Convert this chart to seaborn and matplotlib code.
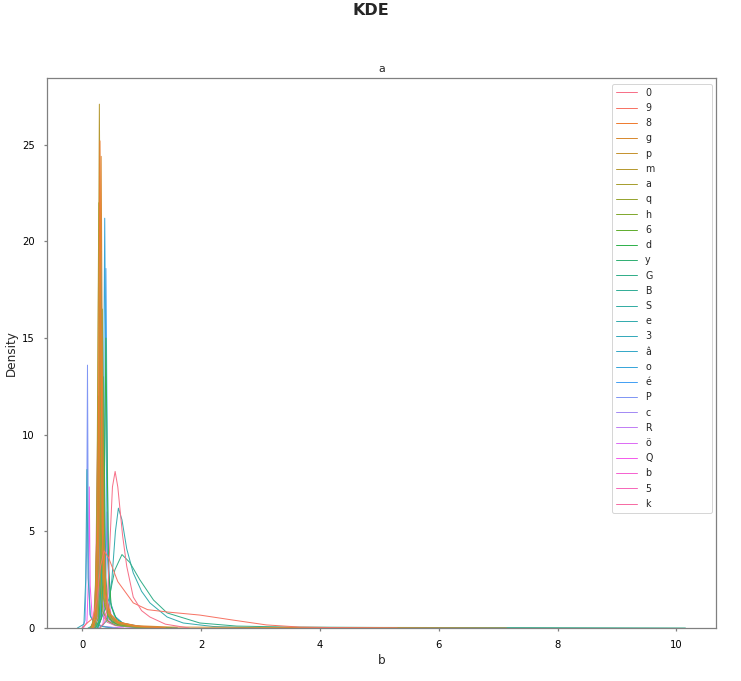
import numpy as np
import matplotlib
matplotlib.use("Agg")
import matplotlib.pyplot as plt
import pandas as pd
import seaborn as sns

# legend labels (one per curve)
names = ["0", "9", "8", "g", "p", "m", "a", "q", "h", "6", "d", "y", "G", "B",
         "S", "e", "3", "â", "o", "é", "P", "c", "R", "ö", "Q", "b", "5", "k"]

# density curves: x positions and density values
x_points = [
    [0.3, 0.38, 0.42, 0.47, 0.51, 0.555, 0.6, 0.68, 0.75, 0.86, 1.0, 1.14, 1.4, 1.8],
    [0.0, 0.1, 0.18, 0.25, 0.31, 0.37, 0.45, 0.6, 0.86, 1.1, 1.43, 1.98, 2.54, 3.1, 3.66, 4.3, 5.3],
    [0.17, 0.23, 0.265, 0.285, 0.30, 0.318, 0.34, 0.38, 0.46, 0.6, 0.9, 1.4],
    [0.19, 0.25, 0.285, 0.305, 0.32, 0.338, 0.36, 0.4, 0.48, 0.62, 0.92, 1.5, 3.0, 5.0, 7.14],
    [0.18, 0.24, 0.275, 0.295, 0.31, 0.328, 0.35, 0.39, 0.47, 0.61, 0.91, 1.4],
    [0.16, 0.22, 0.255, 0.275, 0.29, 0.308, 0.33, 0.37, 0.45, 0.59, 0.89, 1.4],
    [0.15, 0.21, 0.245, 0.265, 0.28, 0.298, 0.32, 0.36, 0.44, 0.58, 0.88, 1.4],
    [0.14, 0.2, 0.235, 0.255, 0.27, 0.288, 0.31, 0.35, 0.43, 0.57, 0.87, 1.4],
    [0.21, 0.27, 0.305, 0.325, 0.34, 0.358, 0.38, 0.42, 0.5, 0.64, 0.94, 1.5],
    [0.17, 0.23, 0.265, 0.285, 0.30, 0.318, 0.34, 0.38, 0.46, 0.6, 0.9, 1.4],
    [0.26, 0.32, 0.36, 0.383, 0.40, 0.42, 0.445, 0.49, 0.58, 0.72, 1.0, 1.6],
    [0.22, 0.28, 0.315, 0.335, 0.35, 0.368, 0.39, 0.43, 0.51, 0.65, 0.95, 1.5],
    [0.1, 0.3, 0.45, 0.55, 0.67, 0.8, 0.97, 1.2, 1.43, 1.98, 2.6, 3.5, 5.0, 7.5, 10.15],
    [0.19, 0.25, 0.285, 0.305, 0.32, 0.338, 0.36, 0.4, 0.48, 0.62, 0.92, 1.5],
    [0.23, 0.29, 0.325, 0.345, 0.36, 0.378, 0.4, 0.44, 0.52, 0.66, 0.96, 1.5],
    [0.3, 0.42, 0.5, 0.56, 0.61, 0.67, 0.75, 0.86, 1.0, 1.14, 1.43, 1.7, 2.2, 3.0],
    [-0.08, 0.03, 0.06, 0.08, 0.1, 0.14, 0.2, 0.3, 0.5],
    [0.21, 0.27, 0.305, 0.325, 0.34, 0.358, 0.38, 0.42, 0.5, 0.64, 0.94, 1.5],
    [0.25, 0.31, 0.345, 0.365, 0.38, 0.398, 0.42, 0.46, 0.54, 0.68, 0.98, 1.5],
    [0.27, 0.33, 0.365, 0.385, 0.40, 0.418, 0.44, 0.48, 0.56, 0.7, 1.0, 1.6],
    [0.0, 0.05, 0.075, 0.09, 0.105, 0.13, 0.2, 0.35, 0.6],
    [0.17, 0.23, 0.265, 0.285, 0.30, 0.318, 0.34, 0.38, 0.46, 0.6, 0.9, 1.4],
    [0.23, 0.29, 0.325, 0.345, 0.36, 0.378, 0.4, 0.44, 0.52, 0.66, 0.96, 1.5],
    [0.29, 0.35, 0.385, 0.405, 0.42, 0.438, 0.46, 0.5, 0.58, 0.72, 1.02, 1.6],
    [0.02, 0.08, 0.105, 0.12, 0.135, 0.17, 0.25, 0.4, 0.7],
    [0.2, 0.26, 0.295, 0.315, 0.33, 0.348, 0.37, 0.41, 0.49, 0.63, 0.93, 1.5],
    [0.16, 0.22, 0.255, 0.275, 0.29, 0.308, 0.33, 0.37, 0.45, 0.59, 0.89, 1.4],
    [0.13, 0.19, 0.225, 0.245, 0.26, 0.278, 0.30, 0.34, 0.42, 0.56, 0.86, 1.4],
]
y_points = [
    [0, 0.3, 1.1, 4.6, 7.3, 8.1, 7.3, 4.8, 3.2, 1.6, 0.9, 0.57, 0.2, 0],
    [0, 0.3, 0.5, 1.5, 3.2, 4.0, 3.6, 2.4, 1.3, 0.95, 0.83, 0.67, 0.41, 0.16, 0.05, 0.02, 0],
    [0, 0.8, 5.5, 16.4, 25.2, 15.1, 5.0, 1.8, 0.75, 0.3, 0.1, 0],
    [0, 0.7, 5.4, 15.8, 24.4, 14.6, 4.9, 1.7, 0.7, 0.3, 0.12, 0.05, 0.03, 0.02, 0],
    [0, 0.5, 4.0, 11.7, 18.0, 10.8, 3.6, 1.3, 0.55, 0.22, 0.07, 0],
    [0, 0.8, 6.0, 17.6, 27.1, 16.3, 5.4, 1.9, 0.8, 0.33, 0.11, 0],
    [0, 0.7, 4.8, 14.3, 22.0, 13.2, 4.4, 1.5, 0.66, 0.26, 0.09, 0],
    [0, 0.4, 2.6, 7.8, 12.0, 7.2, 2.4, 0.84, 0.36, 0.14, 0.05, 0],
    [0, 0.5, 3.6, 10.7, 16.5, 9.9, 3.3, 1.2, 0.5, 0.2, 0.07, 0],
    [0, 0.5, 3.4, 9.9, 15.3, 9.2, 3.1, 1.1, 0.46, 0.18, 0.06, 0],
    [0, 0.5, 3.3, 9.8, 15.0, 9.0, 3.0, 1.1, 0.45, 0.18, 0.06, 0],
    [0, 0.3, 2.2, 6.5, 10.0, 6.0, 2.0, 0.7, 0.3, 0.12, 0.04, 0],
    [0, 0.3, 1.5, 3.0, 3.8, 3.4, 2.5, 1.45, 0.78, 0.26, 0.1, 0.05, 0.03, 0.02, 0],
    [0, 0.6, 4.3, 12.7, 19.5, 11.7, 3.9, 1.4, 0.6, 0.23, 0.08, 0],
    [0, 0.4, 2.9, 8.5, 13.0, 7.8, 2.6, 0.9, 0.4, 0.16, 0.05, 0],
    [0, 0.4, 2.5, 5.0, 6.2, 5.6, 4.1, 2.85, 1.9, 1.3, 0.57, 0.26, 0.08, 0],
    [0, 0.2, 2.5, 8.2, 2.6, 0.6, 0.3, 0.1, 0],
    [0, 0.3, 2.4, 7.2, 11.0, 6.6, 2.2, 0.8, 0.33, 0.13, 0.04, 0],
    [0, 0.6, 4.7, 13.8, 21.2, 12.7, 4.2, 1.5, 0.64, 0.25, 0.08, 0],
    [0, 0.6, 4.1, 12.1, 18.6, 11.2, 3.7, 1.3, 0.56, 0.22, 0.07, 0],
    [0, 0.4, 4.0, 13.6, 3.8, 0.7, 0.25, 0.08, 0],
    [0, 0.3, 2.0, 5.9, 9.0, 5.4, 1.8, 0.63, 0.27, 0.11, 0.04, 0],
    [0, 0.2, 1.5, 4.6, 7.0, 4.2, 1.4, 0.5, 0.21, 0.08, 0.03, 0],
    [0, 0.2, 1.3, 3.9, 6.0, 3.6, 1.2, 0.42, 0.18, 0.07, 0.02, 0],
    [0, 0.3, 2.4, 7.3, 2.2, 0.5, 0.2, 0.06, 0],
    [0, 0.5, 3.3, 9.8, 15.0, 9.0, 3.0, 1.05, 0.45, 0.18, 0.06, 0],
    [0, 0.4, 2.6, 7.8, 12.0, 7.2, 2.4, 0.84, 0.36, 0.14, 0.05, 0],
    [0, 0.3, 2.2, 6.5, 10.0, 6.0, 2.0, 0.7, 0.3, 0.12, 0.04, 0],
]

sns.set_theme(style="ticks", rc={"axes.edgecolor": ".5", "xtick.color": ".5",
                                 "ytick.color": ".5", "xtick.major.size": 3,
                                 "ytick.major.size": 3, "xtick.major.pad": 9,
                                 "ytick.major.pad": 9})
pal = sns.color_palette("husl", len(names))

fig = plt.figure(figsize=(741 / 72, 681 / 72), dpi=72)
ax = fig.add_axes([0.0634, 0.0778, 0.9026, 0.8077])

# first levels end up on top, like kdeplot does
for i in range(len(names) - 1, -1, -1):
    sns.lineplot(x=x_points[i], y=y_points[i], color=pal[i],
                 linewidth=1, ax=ax, errorbar=None, legend=False)

ax.set_ylim(bottom=0)
ax.tick_params(labelsize=10, labelcolor="black")

# legend in the original order (lines were added last-to-first)
ax.legend(ax.lines[::-1], names, loc="upper left",
          bbox_to_anchor=(0.8445, 0.0, 0.1495, 0.989), mode="expand",
          borderaxespad=0, fontsize=9.5, labelspacing=0.55, handlelength=2.3)

ax.set_title("a", fontsize=11)
ax.set_xlabel("b", fontsize=12)
ax.set_ylabel("Density", fontsize=12)
fig.suptitle("KDE", fontsize=16, fontweight="bold", y=0.995)

fig.savefig("out.png", dpi=72)
